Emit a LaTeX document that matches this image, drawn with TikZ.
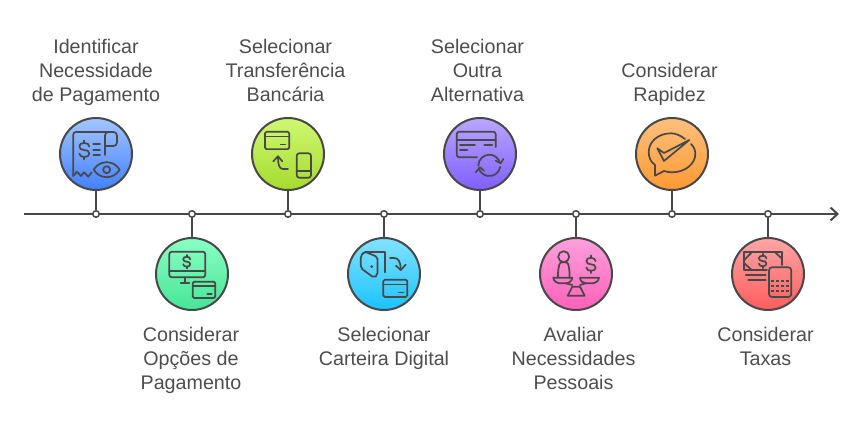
\documentclass[tikz,border=0pt]{standalone}
\usepackage{fontspec}
\setmainfont{Liberation Sans}
\usetikzlibrary{positioning}
\usetikzlibrary{arrows.meta}
\definecolor{linegray}{HTML}{484848}
\definecolor{textgray}{HTML}{4D4D4D}
\definecolor{bluetop}{HTML}{A3C6FF}
\definecolor{bluebot}{HTML}{4180FF}
\definecolor{greentop}{HTML}{8BFFC3}
\definecolor{greenbot}{HTML}{45E596}
\definecolor{limetop}{HTML}{CFF873}
\definecolor{limebot}{HTML}{A5DB2E}
\definecolor{cyantop}{HTML}{82E2FF}
\definecolor{cyanbot}{HTML}{1BC3FF}
\definecolor{purpletop}{HTML}{BBA6FF}
\definecolor{purplebot}{HTML}{7F5FFF}
\definecolor{pinktop}{HTML}{FFA0DC}
\definecolor{pinkbot}{HTML}{FF60B9}
\definecolor{orangetop}{HTML}{FFC07C}
\definecolor{orangebot}{HTML}{FF9933}
\definecolor{redtop}{HTML}{FFA6A6}
\definecolor{redbot}{HTML}{FF5C5C}
\tikzset{
  stopnode/.style={circle, draw=linegray, line width=2pt, minimum size=72pt, inner sep=0pt, top color=#1top, bottom color=#1bot},
  axisdot/.style={circle, draw=linegray, fill=white, line width=1.5pt, minimum size=6.5pt, inner sep=0pt},
  steptext/.style={align=center, text=textgray, font=\fontsize{19.7}{24}\selectfont, inner sep=0pt, execute at begin node=\strut, execute at end node=\strut},
  icon/.style={draw=linegray, line width=1.7pt, line join=round, line cap=round},
  dollar/.pic={
    \draw[icon] (5,-3.5) .. controls (5,-6) and (2.5,-7) .. (0,-7) .. controls (-3,-7) and (-5,-6) .. (-5,-3.5) .. controls (-5,-1) and (-2.5,0) .. (0,0) .. controls (2.5,0) and (5,1) .. (5,3.5) .. controls (5,6) and (3,7) .. (0,7) .. controls (-2.5,7) and (-5,6) .. (-5,3.5);
    \draw[icon] (0,-7) -- (0,-9.5) (0,7) -- (0,9.5);
  },
  card/.pic={
    \draw[icon, rounded corners=1.5] (0,0) rectangle (22.6,16.3);
    \draw[icon] (0,4.6) -- (22.6,4.6) (14.6,12) -- (19,12);
  }
}
\begin{document}
\begin{tikzpicture}[x=1pt, y=-1pt]
\useasboundingbox (0,0) rectangle (864,420);
\coordinate (axisstart) at (24,214);
\coordinate (axisend) at (839,214);
\draw[linegray, line width=2pt, -{Straight Barb[length=7pt,width=13pt]}] (axisstart) -- (axisend);
% stops along the axis
\foreach \name/\x in {ident/96, opcoes/192, transf/288, carteira/384, outra/480, avaliar/576, rapidez/672, taxas/768}
  \node[axisdot] (dot\name) at (\x,214) {};
\node[stopnode=blue] (ident) at (96,154) {};
\node[stopnode=green] (opcoes) at (192,274) {};
\node[stopnode=lime] (transf) at (288,154) {};
\node[stopnode=cyan] (carteira) at (384,274) {};
\node[stopnode=purple] (outra) at (480,154) {};
\node[stopnode=pink] (avaliar) at (576,274) {};
\node[stopnode=orange] (rapidez) at (672,154) {};
\node[stopnode=red] (taxas) at (768,274) {};
\foreach \name in {ident, opcoes, transf, carteira, outra, avaliar, rapidez, taxas}
  \draw[linegray, line width=2pt] (\name) -- (dot\name);
% labels
\node[steptext, above=8pt of ident] (identtext) {Identificar\\Necessidade\\de Pagamento};
\node[steptext, below=16.3pt of opcoes, xshift=-1pt] (opcoestext) {Considerar\\Opções de\\Pagamento};
\node[steptext, above=8pt of transf, xshift=-2.5pt] (transftext) {Selecionar\\Transferência\\Bancária};
\node[steptext, below=16.3pt of carteira] (carteiratext) {Selecionar\\Carteira Digital};
\node[steptext, above=8pt of outra, xshift=-2.5pt] (outratext) {Selecionar\\Outra\\Alternativa};
\node[steptext, below=16.3pt of avaliar, xshift=-2.5pt] (avaliartext) {Avaliar\\Necessidades\\Pessoais};
\node[steptext, above=8pt of rapidez, xshift=-2.5pt] (rapideztext) {Considerar\\Rapidez};
\node[steptext, below=16.3pt of taxas, xshift=-2.5pt] (taxastext) {Considerar\\Taxas};
% receipt and eye
\begin{scope}[shift={(ident.center)}]
\draw[icon, rounded corners=2.5] (-22.7,22) -- (-22.7,-22) -- (16,-22);
\draw[icon] (-22.7,22) -- (-19,17.7) -- (-15,22) -- (-12,18.3) -- (-7.7,22.7) -- (-4.3,18.3);
\draw[icon, rounded corners=3.5] (9,1) -- (9,-22) -- (21,-22) -- (21,-8) -- (9,-8);
\pic at (-11.7,-4) {dollar};
\draw[icon] (-2.7,-10) -- (4,-10) (-2.7,-4.3) -- (4,-4.3) (-2.7,1.3) -- (4,1.3);
\draw[icon] (-2.3,15.7) .. controls (3.7,5.7) and (17.7,5.7) .. (23.7,15.7) .. controls (17.7,25.7) and (3.7,25.7) .. (-2.3,15.7);
\draw[icon] (10.7,15.7) circle (3.5);
\end{scope}
% monitor and card
\begin{scope}[shift={(opcoes.center)}]
\draw[icon, rounded corners=2.5] (-22.7,-22.3) rectangle (13.3,3.3);
\draw[icon] (-22.7,-3.3) -- (13.3,-3.3) (-7,3.3) -- (-7,9.3) (-11.3,9.3) -- (-2.7,9.3);
\pic[scale=.7] at (-5.3,-12.3) {dollar};
\pic at (0.7,7.7) {card};
\end{scope}
% card, arrow and phone
\begin{scope}[shift={(transf.center)}]
\pic[scale=1.07] at (-23,-22.3) {card};
\draw[icon] (0,15) -- (-5,15) .. controls (-9,15) and (-10,10) .. (-10,3);
\draw[icon] (-14.7,7.3) -- (-10,2.3) -- (-5.7,7.3);
\draw[icon, rounded corners=2.5] (8.7,-0.7) rectangle (23,23.7);
\draw[icon] (8.7,17.3) -- (23,17.3);
\end{scope}
% wallet, arrow and card
\begin{scope}[shift={(carteira.center)}]
\draw[icon] (1,-1.7) -- (1,-22.3) -- (-19,-22.3);
\draw[icon, rounded corners=2] (-6.5,-17) -- (-19.5,-22.5) -- (-23.3,-18) -- (-23.3,-6) -- (-10,3.8) -- (-6.5,1) -- cycle;
\fill[linegray] (-12.3,-7.3) circle (1.5);
\draw[icon] (6,-16) -- (10,-16) .. controls (14,-16) and (16.7,-13) .. (16.7,-4);
\draw[icon] (12,-8.3) -- (16.7,-4) -- (21.7,-9.3);
\pic[scale=1.06] at (-0.7,5.7) {card};
\end{scope}
% card and refresh
\begin{scope}[shift={(outra.center)}]
\draw[icon, rounded corners=2.5] (-3,3.3) -- (-23.3,3.3) -- (-23.3,-22.3) -- (15.7,-22.3) -- (15.7,-7);
\draw[icon] (-23.3,-14) -- (15.7,-14) (-20,-9.3) -- (-5,-9.3) (-20,-4.3) -- (-12.7,-4.3) (4.3,-9.3) -- (12.3,-9.3);
\draw[icon] (-1.7,11.7) arc[start angle=180, end angle=345, radius=11];
\draw[icon] (23.3,5) -- (20.7,9.3) -- (15.7,6.7);
\draw[icon] (20.2,13) arc[start angle=10, end angle=165, radius=11];
\draw[icon] (-4.3,18.3) -- (0,13.3) -- (4,16.7);
\end{scope}
% person, scale and dollar
\begin{scope}[shift={(avaliar.center)}]
\draw[icon] (-12.3,-17.3) circle (5.5);
\draw[icon, rounded corners=2.5] (-18,3.7) -- (-18,-3) -- (-16.3,-11.7) -- (-8,-11.7) -- (-6.5,-3) -- (-6.5,3.7);
\draw[icon] (-22.7,3.7) -- (-3.7,3.7) .. controls (-4,7) and (-7,9.3) .. (-10.3,9.3) -- (-16,9.3) .. controls (-19,9.3) and (-22.5,7) .. (-22.7,3.7);
\draw[icon] (4,3.7) -- (23,3.7) .. controls (22.7,7) and (19.5,9.3) .. (16.3,9.3) -- (9.7,9.3) .. controls (7,9.3) and (4,7) .. (4,3.7);
\draw[icon] (-10.3,9.3) -- (-3.7,11) (9.7,9.3) -- (4,11);
\draw[icon] (-3.7,12.7) -- (4,12.7) -- (8.7,21.7) -- (-8.3,21.7) -- cycle;
\pic[scale=.92] at (15,-9.7) {dollar};
\end{scope}
% speech bubble and check
\begin{scope}[shift={(rapidez.center)}]
\draw[icon] (13,-15) .. controls (8,-19) and (3,-20.7) .. (-1,-20.7) .. controls (-14,-20.7) and (-23.3,-12) .. (-23.3,-2) .. controls (-23.3,4) and (-21,8) .. (-17,11) -- (-17,21.7) -- (-8,17) .. controls (-5,18) and (-2,18.3) .. (0,18.3) .. controls (13,18.3) and (23.3,10) .. (23.3,0) .. controls (23.3,-4) and (22,-7) .. (19,-10);
\draw[icon] (-14.7,-5.7) -- (-8,-1) -- (17.3,-14) -- (-8,7) -- cycle;
\end{scope}
% banknote and calculator
\begin{scope}[shift={(taxas.center)}]
\draw[icon] (-1,-4) -- (-23.7,-4) -- (-23.7,-21.7) -- (14.3,-21.7) -- (14.3,-9);
\draw[icon] (-23.7,-14) -- (-16.3,-21.7) (-23.7,-10.7) -- (-16.3,-4) (7,-21.7) -- (14.3,-15);
\pic[scale=.75] at (-5.3,-13) {dollar};
\draw[icon] (-22.3,1) -- (-2.3,1) (-19.7,5.7) -- (-2.3,5.7);
\draw[icon, rounded corners=3] (1,-6.7) rectangle (23.3,23);
\foreach \kx in {4.7,9.7,14.3,19.3}
  \foreach \ky in {6.7,11.7,16.7}
    \fill[linegray] (\kx-1.4,\ky-1.2) rectangle (\kx+1.4,\ky+1.2);
\end{scope}
\end{tikzpicture}
\end{document}
